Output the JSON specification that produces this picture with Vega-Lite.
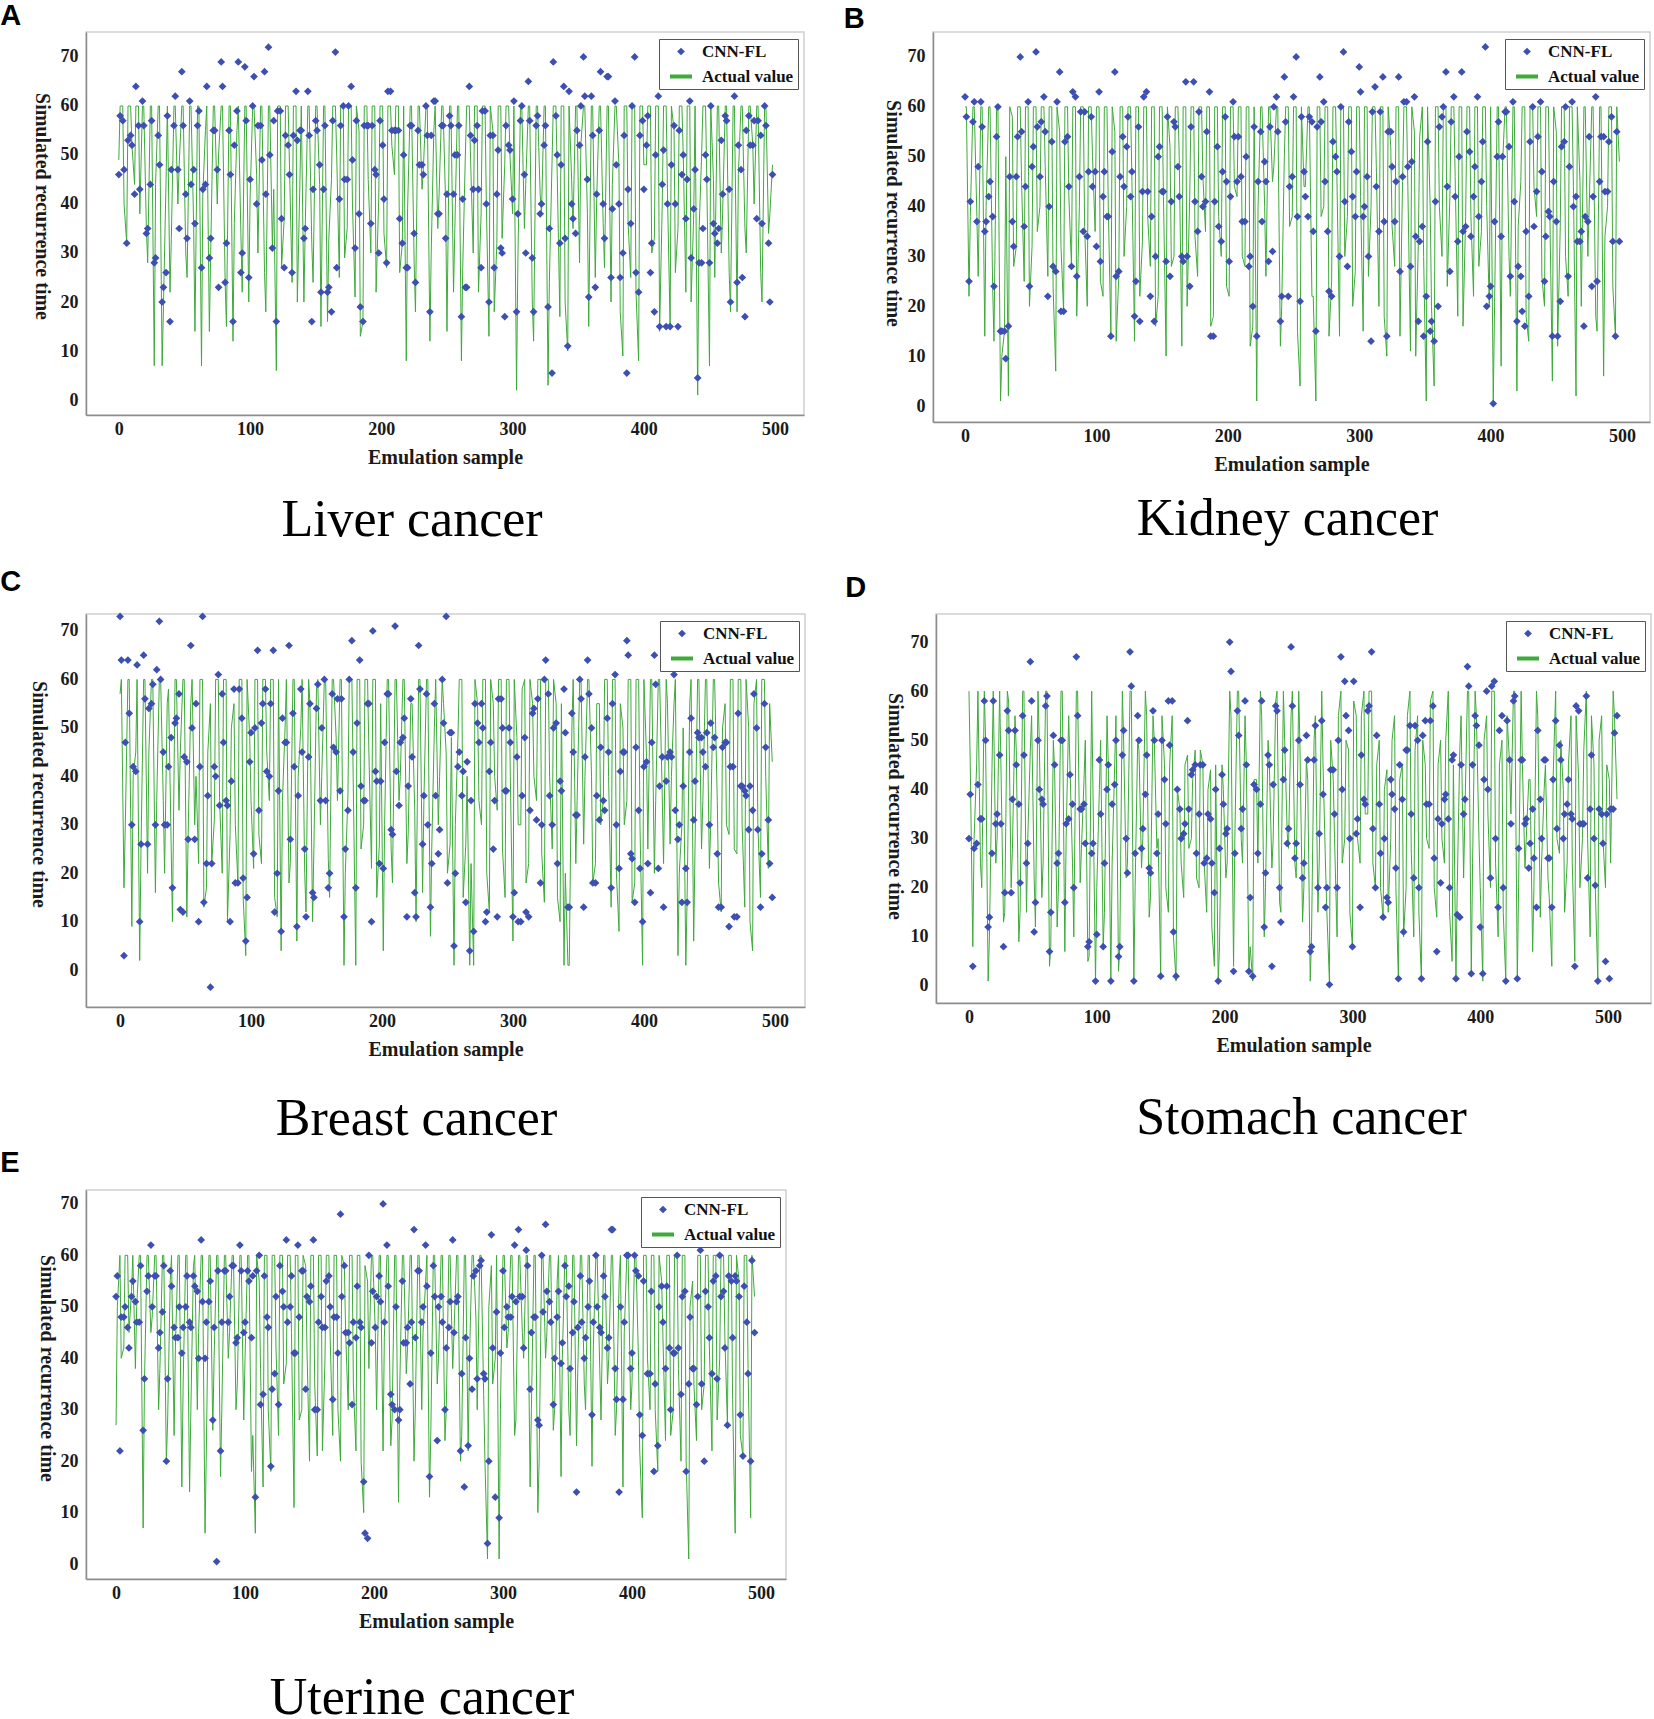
{
"$schema":"https://vega.github.io/schema/vega-lite/v6.json",
"background":"white",
"padding":{"left":0,"top":2,"right":0,"bottom":0},
"config":{
 "view":{"stroke":"#cfcfcf","strokeWidth":1.5},
 "axis":{"labelFont":"Liberation Serif","labelFontWeight":"bold","labelFontSize":18,"labelColor":"#1a1a1a","titleFont":"Liberation Serif","titleFontWeight":"bold","titleFontSize":20,"titleColor":"#1a1a1a","grid":false,"ticks":false,"domainColor":"#8c8c8c","domainWidth":1.5,"labelPadding":8,"labelFlush":false,"labelOverlap":false},
 "axisX":{"titlePadding":9,"labelPadding":5},
 "axisY":{"titleAngle":90,"titleBaseline":"top"},
 "legend":{"strokeColor":"#555","fillColor":"white","padding":4,"rowPadding":3.5,"symbolOffset":5,"labelFont":"Liberation Serif","labelFontWeight":"bold","labelFontSize":17,"labelColor":"#111","labelOffset":8,"cornerRadius":0,"orient":"top-right","offset":6.5},
 "title":{"font":"Liberation Sans","fontWeight":"bold","fontSize":29,"color":"#000","anchor":"start","frame":"bounds"},
 "line":{"strokeWidth":1},
 "point":{"filled":true,"opacity":1}
},
"datasets":{
"A":[{"x":0,"a":49,"c":46},{"x":3,"a":60,"c":57},{"x":6,"a":32,"c":32},{"x":9,"a":60,"c":54},{"x":12,"a":44,"c":42},{"x":15,"a":60,"c":56},{"x":18,"a":60,"c":61},{"x":21,"a":35,"c":34},{"x":24,"a":60,"c":44},{"x":27,"a":7,"c":28},{"x":30,"a":60,"c":54},{"x":33,"a":7,"c":20},{"x":36,"a":45,"c":26},{"x":39,"a":22,"c":16},{"x":42,"a":60,"c":56},{"x":45,"a":40,"c":47},{"x":48,"a":60,"c":67},{"x":51,"a":30,"c":42},{"x":54,"a":60,"c":61},{"x":57,"a":36,"c":47},{"x":60,"a":60,"c":56},{"x":63,"a":7,"c":27},{"x":66,"a":55,"c":44},{"x":69,"a":14,"c":29},{"x":72,"a":60,"c":55},{"x":75,"a":40,"c":47},{"x":78,"a":60,"c":69},{"x":81,"a":24,"c":24},{"x":84,"a":60,"c":55},{"x":87,"a":12,"c":16},{"x":90,"a":55,"c":59},{"x":93,"a":34,"c":26},{"x":96,"a":60,"c":68},{"x":99,"a":20,"c":25},{"x":102,"a":60,"c":60},{"x":105,"a":46,"c":40},{"x":108,"a":60,"c":56},{"x":111,"a":26,"c":67},{"x":114,"a":60,"c":72},{"x":117,"a":31,"c":31},{"x":120,"a":6,"c":16},{"x":123,"a":60,"c":59},{"x":126,"a":37,"c":27},{"x":129,"a":60,"c":52},{"x":132,"a":24,"c":26},{"x":135,"a":60,"c":63},{"x":138,"a":45,"c":55},{"x":141,"a":20,"c":33},{"x":144,"a":60,"c":63},{"x":147,"a":32,"c":16},{"x":150,"a":60,"c":57},{"x":153,"a":44,"c":48},{"x":156,"a":60,"c":43},{"x":159,"a":16,"c":22},{"x":162,"a":45,"c":18},{"x":165,"a":60,"c":71},{"x":168,"a":25,"c":41},{"x":171,"a":60,"c":60},{"x":174,"a":35,"c":45},{"x":177,"a":60,"c":64},{"x":180,"a":21,"c":31},{"x":183,"a":55,"c":38},{"x":186,"a":16,"c":16},{"x":189,"a":60,"c":56},{"x":192,"a":30,"c":36},{"x":195,"a":60,"c":47},{"x":198,"a":41,"c":30},{"x":201,"a":60,"c":52},{"x":204,"a":27,"c":28},{"x":207,"a":60,"c":63},{"x":210,"a":46,"c":55},{"x":213,"a":60,"c":55},{"x":216,"a":32,"c":32},{"x":219,"a":8,"c":27},{"x":222,"a":60,"c":56},{"x":225,"a":28,"c":34},{"x":228,"a":60,"c":55},{"x":231,"a":43,"c":48},{"x":234,"a":60,"c":60},{"x":237,"a":12,"c":18},{"x":240,"a":55,"c":61},{"x":243,"a":35,"c":38},{"x":246,"a":60,"c":56},{"x":249,"a":40,"c":33},{"x":252,"a":60,"c":58},{"x":255,"a":22,"c":42},{"x":258,"a":60,"c":50},{"x":261,"a":8,"c":17},{"x":264,"a":50,"c":23},{"x":267,"a":60,"c":64},{"x":270,"a":30,"c":43},{"x":273,"a":60,"c":56},{"x":276,"a":38,"c":27},{"x":279,"a":60,"c":59},{"x":282,"a":13,"c":20},{"x":285,"a":55,"c":54},{"x":288,"a":32,"c":42},{"x":291,"a":60,"c":31},{"x":294,"a":48,"c":17},{"x":297,"a":60,"c":52},{"x":300,"a":38,"c":41},{"x":303,"a":2,"c":18},{"x":306,"a":60,"c":57},{"x":309,"a":35,"c":46},{"x":312,"a":60,"c":65},{"x":315,"a":20,"c":29},{"x":318,"a":60,"c":56},{"x":321,"a":42,"c":38},{"x":324,"a":60,"c":52},{"x":327,"a":3,"c":19},{"x":330,"a":48,"c":5.5},{"x":333,"a":60,"c":58},{"x":336,"a":17,"c":32},{"x":339,"a":60,"c":64},{"x":342,"a":10,"c":11},{"x":345,"a":45,"c":40},{"x":348,"a":60,"c":34},{"x":351,"a":28,"c":52},{"x":354,"a":60,"c":70},{"x":357,"a":38,"c":45},{"x":360,"a":60,"c":62},{"x":363,"a":25,"c":23},{"x":366,"a":60,"c":55},{"x":369,"a":36,"c":40},{"x":372,"a":60,"c":66},{"x":375,"a":20,"c":25},{"x":378,"a":60,"c":61},{"x":381,"a":48,"c":40},{"x":384,"a":9,"c":30},{"x":387,"a":60,"c":5.5},{"x":390,"a":25,"c":36},{"x":393,"a":60,"c":70},{"x":396,"a":8,"c":22},{"x":399,"a":60,"c":57},{"x":402,"a":48,"c":52},{"x":405,"a":60,"c":26},{"x":408,"a":33,"c":18},{"x":411,"a":60,"c":62},{"x":414,"a":40,"c":44},{"x":417,"a":60,"c":15},{"x":420,"a":15,"c":15},{"x":423,"a":55,"c":56},{"x":426,"a":35,"c":15},{"x":429,"a":60,"c":46},{"x":432,"a":22,"c":37},{"x":435,"a":60,"c":61},{"x":438,"a":38,"c":39},{"x":441,"a":1,"c":4.5},{"x":444,"a":50,"c":28},{"x":447,"a":60,"c":50},{"x":450,"a":7,"c":28},{"x":453,"a":45,"c":36},{"x":456,"a":60,"c":32},{"x":459,"a":30,"c":53},{"x":462,"a":60,"c":58},{"x":465,"a":26,"c":43},{"x":468,"a":60,"c":64},{"x":471,"a":18,"c":24},{"x":474,"a":60,"c":47},{"x":477,"a":35,"c":17},{"x":480,"a":60,"c":58},{"x":483,"a":52,"c":52},{"x":486,"a":60,"c":37},{"x":489,"a":26,"c":54},{"x":492,"a":60,"c":60},{"x":495,"a":34,"c":32},{"x":498,"a":48,"c":46},
{"x":1,"a":60,"c":58},{"x":4,"a":40,"c":47},{"x":7,"a":60,"c":53},{"x":10,"a":52,"c":52},{"x":13,"a":60,"c":64},{"x":16,"a":38,"c":43},{"x":19,"a":60,"c":56},{"x":22,"a":28,"c":35},{"x":25,"a":60,"c":57},{"x":28,"a":44,"c":29},{"x":31,"a":60,"c":48},{"x":34,"a":19,"c":23},{"x":37,"a":60,"c":58},{"x":40,"a":33,"c":47},{"x":43,"a":60,"c":62},{"x":46,"a":48,"c":35},{"x":49,"a":60,"c":56},{"x":52,"a":25,"c":33},{"x":55,"a":60,"c":44},{"x":58,"a":14,"c":36},{"x":61,"a":60,"c":59},{"x":64,"a":42,"c":43},{"x":67,"a":60,"c":64},{"x":70,"a":30,"c":33},{"x":73,"a":60,"c":55},{"x":76,"a":50,"c":23},{"x":79,"a":60,"c":64},{"x":82,"a":15,"c":32},{"x":85,"a":60,"c":46},{"x":88,"a":36,"c":52},{"x":91,"a":60,"c":69},{"x":94,"a":22,"c":30},{"x":97,"a":60,"c":57},{"x":100,"a":41,"c":45},{"x":103,"a":60,"c":66},{"x":106,"a":30,"c":56},{"x":109,"a":60,"c":49},{"x":112,"a":18,"c":42},{"x":115,"a":60,"c":50},{"x":118,"a":43,"c":57},{"x":121,"a":60,"c":59},{"x":124,"a":27,"c":37},{"x":127,"a":60,"c":54},{"x":130,"a":48,"c":46},{"x":133,"a":60,"c":54},{"x":136,"a":20,"c":53},{"x":139,"a":60,"c":55},{"x":142,"a":35,"c":35},{"x":145,"a":60,"c":54},{"x":148,"a":24,"c":43},{"x":151,"a":60,"c":55},{"x":154,"a":15,"c":22},{"x":157,"a":60,"c":56},{"x":160,"a":33,"c":23},{"x":163,"a":60,"c":57},{"x":166,"a":50,"c":27},{"x":169,"a":60,"c":56},{"x":172,"a":29,"c":45},{"x":175,"a":60,"c":60},{"x":178,"a":40,"c":49},{"x":181,"a":60,"c":57},{"x":184,"a":13,"c":19},{"x":187,"a":60,"c":56},{"x":190,"a":45,"c":56},{"x":193,"a":60,"c":56},{"x":196,"a":22,"c":46},{"x":199,"a":60,"c":57},{"x":202,"a":34,"c":41},{"x":205,"a":60,"c":63},{"x":208,"a":52,"c":55},{"x":211,"a":60,"c":55},{"x":214,"a":26,"c":37},{"x":217,"a":60,"c":50},{"x":220,"a":39,"c":27},{"x":223,"a":60,"c":56},{"x":226,"a":18,"c":24},{"x":229,"a":60,"c":48},{"x":232,"a":47,"c":46},{"x":235,"a":60,"c":54},{"x":238,"a":30,"c":54},{"x":241,"a":60,"c":61},{"x":244,"a":42,"c":38},{"x":247,"a":60,"c":56},{"x":250,"a":14,"c":42},{"x":253,"a":60,"c":56},{"x":256,"a":35,"c":50},{"x":259,"a":60,"c":56},{"x":262,"a":27,"c":41},{"x":265,"a":60,"c":23},{"x":268,"a":49,"c":54},{"x":271,"a":60,"c":53},{"x":274,"a":22,"c":43},{"x":277,"a":60,"c":59},{"x":280,"a":40,"c":40},{"x":283,"a":60,"c":54},{"x":286,"a":18,"c":27},{"x":289,"a":60,"c":51},{"x":292,"a":33,"c":30},{"x":295,"a":60,"c":56},{"x":298,"a":50,"c":51},{"x":301,"a":60,"c":61},{"x":304,"a":28,"c":38},{"x":307,"a":60,"c":60},{"x":310,"a":44,"c":30},{"x":313,"a":60,"c":57},{"x":316,"a":12,"c":18},{"x":319,"a":60,"c":58},{"x":322,"a":38,"c":40},{"x":325,"a":60,"c":56},{"x":328,"a":24,"c":35},{"x":331,"a":60,"c":69},{"x":334,"a":46,"c":50},{"x":337,"a":60,"c":48},{"x":340,"a":20,"c":33},{"x":343,"a":60,"c":63},{"x":346,"a":35,"c":37},{"x":349,"a":60,"c":55},{"x":352,"a":52,"c":60},{"x":355,"a":60,"c":62},{"x":358,"a":15,"c":21},{"x":361,"a":60,"c":54},{"x":364,"a":40,"c":42},{"x":367,"a":60,"c":67},{"x":370,"a":27,"c":33},{"x":373,"a":60,"c":66},{"x":376,"a":44,"c":39},{"x":379,"a":60,"c":48},{"x":382,"a":18,"c":25},{"x":385,"a":60,"c":54},{"x":388,"a":36,"c":43},{"x":391,"a":60,"c":60},{"x":394,"a":22,"c":26},{"x":397,"a":60,"c":54},{"x":400,"a":48,"c":43},{"x":403,"a":60,"c":58},{"x":406,"a":30,"c":32},{"x":409,"a":60,"c":50},{"x":412,"a":14,"c":15},{"x":415,"a":60,"c":51},{"x":418,"a":42,"c":40},{"x":421,"a":60,"c":48},{"x":424,"a":26,"c":40},{"x":427,"a":60,"c":55},{"x":430,"a":50,"c":50},{"x":433,"a":60,"c":45},{"x":436,"a":20,"c":29},{"x":439,"a":60,"c":47},{"x":442,"a":34,"c":28},{"x":445,"a":60,"c":35},{"x":448,"a":44,"c":45},{"x":451,"a":60,"c":60},{"x":454,"a":25,"c":34},{"x":457,"a":60,"c":35},{"x":460,"a":38,"c":42},{"x":463,"a":60,"c":57},{"x":466,"a":18,"c":20},{"x":469,"a":60,"c":62},{"x":472,"a":46,"c":52},{"x":475,"a":60,"c":25},{"x":478,"a":30,"c":55},{"x":481,"a":60,"c":52},{"x":484,"a":40,"c":57},{"x":487,"a":60,"c":57},{"x":490,"a":20,"c":36},{"x":493,"a":60,"c":56},{"x":496,"a":38,"c":20}],
"B":[{"x":0,"a":60,"c":62},{"x":3,"a":22,"c":25},{"x":6,"a":60,"c":57},{"x":9,"a":38,"c":37},{"x":12,"a":60,"c":61},{"x":15,"a":14,"c":35},{"x":18,"a":60,"c":42},{"x":21,"a":24,"c":38},{"x":24,"a":60,"c":54},{"x":27,"a":1,"c":15},{"x":30,"a":15,"c":15},{"x":33,"a":2,"c":16},{"x":36,"a":58,"c":37},{"x":39,"a":32,"c":46},{"x":42,"a":60,"c":70},{"x":45,"a":25,"c":36},{"x":48,"a":60,"c":61},{"x":51,"a":32,"c":48},{"x":54,"a":60,"c":71},{"x":57,"a":40,"c":46},{"x":60,"a":60,"c":62},{"x":63,"a":26,"c":22},{"x":66,"a":60,"c":53},{"x":69,"a":7,"c":27},{"x":72,"a":55,"c":67},{"x":75,"a":19,"c":19},{"x":78,"a":60,"c":54},{"x":81,"a":28,"c":28},{"x":84,"a":60,"c":62},{"x":87,"a":40,"c":46},{"x":90,"a":60,"c":35},{"x":93,"a":20,"c":34},{"x":96,"a":60,"c":58},{"x":99,"a":35,"c":47},{"x":102,"a":60,"c":63},{"x":105,"a":22,"c":42},{"x":108,"a":60,"c":38},{"x":111,"a":14,"c":14},{"x":114,"a":55,"c":67},{"x":117,"a":26,"c":27},{"x":120,"a":60,"c":54},{"x":123,"a":40,"c":52},{"x":126,"a":60,"c":42},{"x":129,"a":13,"c":18},{"x":132,"a":60,"c":56},{"x":135,"a":33,"c":43},{"x":138,"a":60,"c":63},{"x":141,"a":28,"c":22},{"x":144,"a":60,"c":17},{"x":147,"a":22,"c":50},{"x":150,"a":60,"c":43},{"x":153,"a":10,"c":29},{"x":156,"a":52,"c":26},{"x":159,"a":30,"c":57},{"x":162,"a":60,"c":48},{"x":165,"a":12,"c":30},{"x":168,"a":60,"c":65},{"x":171,"a":42,"c":24},{"x":174,"a":60,"c":65},{"x":177,"a":26,"c":35},{"x":180,"a":60,"c":46},{"x":183,"a":35,"c":41},{"x":186,"a":60,"c":63},{"x":189,"a":18,"c":14},{"x":192,"a":60,"c":52},{"x":195,"a":30,"c":33},{"x":198,"a":60,"c":58},{"x":201,"a":22,"c":29},{"x":204,"a":60,"c":61},{"x":207,"a":42,"c":45},{"x":210,"a":60,"c":46},{"x":213,"a":28,"c":37},{"x":216,"a":60,"c":28},{"x":219,"a":16,"c":20},{"x":222,"a":1,"c":14},{"x":225,"a":60,"c":55},{"x":228,"a":40,"c":49},{"x":231,"a":60,"c":29},{"x":234,"a":45,"c":31},{"x":237,"a":60,"c":62},{"x":240,"a":12,"c":17},{"x":243,"a":50,"c":66},{"x":246,"a":60,"c":22},{"x":249,"a":38,"c":46},{"x":252,"a":60,"c":70},{"x":255,"a":4,"c":21},{"x":258,"a":44,"c":47},{"x":261,"a":60,"c":38},{"x":264,"a":22,"c":57},{"x":267,"a":1,"c":15},{"x":270,"a":60,"c":66},{"x":273,"a":40,"c":61},{"x":276,"a":60,"c":35},{"x":279,"a":25,"c":22},{"x":282,"a":60,"c":50},{"x":285,"a":14,"c":30},{"x":288,"a":60,"c":71},{"x":291,"a":38,"c":28},{"x":294,"a":60,"c":51},{"x":297,"a":27,"c":38},{"x":300,"a":60,"c":68},{"x":303,"a":15,"c":38},{"x":306,"a":60,"c":46},{"x":309,"a":40,"c":13},{"x":312,"a":60,"c":64},{"x":315,"a":20,"c":35},{"x":318,"a":60,"c":66},{"x":321,"a":10,"c":14},{"x":324,"a":52,"c":55},{"x":327,"a":28,"c":37},{"x":330,"a":60,"c":66},{"x":333,"a":45,"c":46},{"x":336,"a":60,"c":61},{"x":339,"a":11,"c":28},{"x":342,"a":55,"c":62},{"x":345,"a":33,"c":17},{"x":348,"a":60,"c":36},{"x":351,"a":1,"c":22},{"x":354,"a":40,"c":15},{"x":357,"a":4,"c":13},{"x":360,"a":60,"c":20},{"x":363,"a":30,"c":58},{"x":366,"a":60,"c":67},{"x":369,"a":42,"c":27},{"x":372,"a":60,"c":62},{"x":375,"a":18,"c":33},{"x":378,"a":60,"c":67},{"x":381,"a":38,"c":36},{"x":384,"a":60,"c":51},{"x":387,"a":22,"c":42},{"x":390,"a":60,"c":62},{"x":393,"a":35,"c":45},{"x":396,"a":60,"c":72},{"x":399,"a":20,"c":22},{"x":402,"a":1,"c":0.5},{"x":405,"a":60,"c":50},{"x":408,"a":8,"c":34},{"x":411,"a":60,"c":59},{"x":414,"a":30,"c":52},{"x":417,"a":60,"c":61},{"x":420,"a":3,"c":17},{"x":423,"a":45,"c":26},{"x":426,"a":60,"c":16},{"x":429,"a":13,"c":22},{"x":432,"a":60,"c":60},{"x":435,"a":38,"c":43},{"x":438,"a":60,"c":61},{"x":441,"a":20,"c":25},{"x":444,"a":60,"c":39},{"x":447,"a":5,"c":14},{"x":450,"a":55,"c":37},{"x":453,"a":36,"c":21},{"x":456,"a":60,"c":53},{"x":459,"a":22,"c":26},{"x":462,"a":60,"c":61},{"x":465,"a":2,"c":42},{"x":468,"a":45,"c":33},{"x":471,"a":60,"c":16},{"x":474,"a":30,"c":37},{"x":477,"a":60,"c":24},{"x":480,"a":18,"c":62},{"x":483,"a":60,"c":45},{"x":486,"a":6,"c":54},{"x":489,"a":40,"c":43},{"x":492,"a":60,"c":58},{"x":495,"a":14,"c":14},{"x":498,"a":49,"c":33},
{"x":1,"a":60,"c":58},{"x":4,"a":38,"c":41},{"x":7,"a":60,"c":61},{"x":10,"a":26,"c":48},{"x":13,"a":60,"c":56},{"x":16,"a":40,"c":37},{"x":19,"a":60,"c":45},{"x":22,"a":13,"c":24},{"x":25,"a":60,"c":60},{"x":28,"a":10,"c":15},{"x":31,"a":50,"c":9.5},{"x":34,"a":60,"c":46},{"x":37,"a":28,"c":32},{"x":40,"a":60,"c":54},{"x":43,"a":45,"c":55},{"x":46,"a":60,"c":44},{"x":49,"a":20,"c":24},{"x":52,"a":60,"c":52},{"x":55,"a":35,"c":56},{"x":58,"a":60,"c":57},{"x":61,"a":48,"c":55},{"x":64,"a":60,"c":40},{"x":67,"a":24,"c":28},{"x":70,"a":60,"c":61},{"x":73,"a":32,"c":19},{"x":76,"a":60,"c":53},{"x":79,"a":42,"c":44},{"x":82,"a":60,"c":63},{"x":85,"a":18,"c":26},{"x":88,"a":60,"c":59},{"x":91,"a":36,"c":59},{"x":94,"a":60,"c":47},{"x":97,"a":50,"c":44},{"x":100,"a":60,"c":32},{"x":103,"a":25,"c":29},{"x":106,"a":60,"c":47},{"x":109,"a":40,"c":38},{"x":112,"a":60,"c":51},{"x":115,"a":13,"c":26},{"x":118,"a":60,"c":46},{"x":121,"a":30,"c":44},{"x":124,"a":60,"c":58},{"x":127,"a":45,"c":47},{"x":130,"a":60,"c":25},{"x":133,"a":22,"c":17},{"x":136,"a":60,"c":62},{"x":139,"a":38,"c":43},{"x":142,"a":60,"c":38},{"x":145,"a":16,"c":30},{"x":148,"a":60,"c":52},{"x":151,"a":42,"c":43},{"x":154,"a":60,"c":58},{"x":157,"a":28,"c":41},{"x":160,"a":60,"c":56},{"x":163,"a":50,"c":42},{"x":166,"a":60,"c":29},{"x":169,"a":20,"c":30},{"x":172,"a":60,"c":56},{"x":175,"a":34,"c":41},{"x":178,"a":60,"c":59},{"x":181,"a":46,"c":40},{"x":184,"a":60,"c":55},{"x":187,"a":16,"c":14},{"x":190,"a":60,"c":41},{"x":193,"a":38,"c":36},{"x":196,"a":60,"c":47},{"x":199,"a":24,"c":45},{"x":202,"a":60,"c":42},{"x":205,"a":44,"c":54},{"x":208,"a":60,"c":54},{"x":211,"a":30,"c":37},{"x":214,"a":60,"c":50},{"x":217,"a":12,"c":30},{"x":220,"a":60,"c":56},{"x":223,"a":40,"c":45},{"x":226,"a":60,"c":37},{"x":229,"a":26,"c":45},{"x":232,"a":60,"c":56},{"x":235,"a":48,"c":60},{"x":238,"a":60,"c":55},{"x":241,"a":20,"c":22},{"x":244,"a":60,"c":57},{"x":247,"a":36,"c":44},{"x":250,"a":60,"c":62},{"x":253,"a":15,"c":38},{"x":256,"a":60,"c":58},{"x":259,"a":44,"c":42},{"x":262,"a":60,"c":58},{"x":265,"a":22,"c":35},{"x":268,"a":60,"c":56},{"x":271,"a":38,"c":57},{"x":274,"a":60,"c":45},{"x":277,"a":14,"c":23},{"x":280,"a":60,"c":53},{"x":283,"a":46,"c":47},{"x":286,"a":60,"c":60},{"x":289,"a":30,"c":41},{"x":292,"a":60,"c":57},{"x":295,"a":20,"c":42},{"x":298,"a":60,"c":47},{"x":301,"a":42,"c":63},{"x":304,"a":60,"c":40},{"x":307,"a":26,"c":30},{"x":310,"a":60,"c":59},{"x":313,"a":48,"c":44},{"x":316,"a":60,"c":59},{"x":319,"a":18,"c":37},{"x":322,"a":60,"c":55},{"x":325,"a":36,"c":48},{"x":328,"a":60,"c":45},{"x":331,"a":14,"c":27},{"x":334,"a":60,"c":61},{"x":337,"a":44,"c":48},{"x":340,"a":60,"c":49},{"x":343,"a":10,"c":34},{"x":346,"a":54,"c":33},{"x":349,"a":30,"c":14},{"x":352,"a":60,"c":53},{"x":355,"a":20,"c":17},{"x":358,"a":60,"c":41},{"x":361,"a":40,"c":56},{"x":364,"a":60,"c":60},{"x":367,"a":24,"c":44},{"x":370,"a":60,"c":57},{"x":373,"a":46,"c":42},{"x":376,"a":60,"c":50},{"x":379,"a":16,"c":35},{"x":382,"a":60,"c":55},{"x":385,"a":38,"c":34},{"x":388,"a":60,"c":48},{"x":391,"a":28,"c":38},{"x":394,"a":60,"c":53},{"x":397,"a":40,"c":20},{"x":400,"a":60,"c":24},{"x":403,"a":20,"c":37},{"x":406,"a":60,"c":57},{"x":409,"a":48,"c":50},{"x":412,"a":60,"c":59},{"x":415,"a":22,"c":26},{"x":418,"a":60,"c":41},{"x":421,"a":36,"c":28},{"x":424,"a":60,"c":19},{"x":427,"a":18,"c":35},{"x":430,"a":60,"c":53},{"x":433,"a":44,"c":36},{"x":436,"a":60,"c":54},{"x":439,"a":26,"c":47},{"x":442,"a":60,"c":34},{"x":445,"a":40,"c":38},{"x":448,"a":60,"c":45},{"x":451,"a":12,"c":14},{"x":454,"a":60,"c":52},{"x":457,"a":30,"c":60},{"x":460,"a":60,"c":48},{"x":463,"a":44,"c":40},{"x":466,"a":60,"c":33},{"x":469,"a":20,"c":35},{"x":472,"a":60,"c":38},{"x":475,"a":40,"c":54},{"x":478,"a":60,"c":42},{"x":481,"a":15,"c":25},{"x":484,"a":60,"c":54},{"x":487,"a":34,"c":43},{"x":490,"a":60,"c":53},{"x":493,"a":24,"c":33},{"x":496,"a":60,"c":55}],
"C":[{"x":0,"a":57,"c":73},{"x":3,"a":17,"c":3},{"x":6,"a":60,"c":64},{"x":9,"a":9,"c":30},{"x":12,"a":45,"c":41},{"x":15,"a":2,"c":10},{"x":18,"a":60,"c":65},{"x":21,"a":20,"c":26},{"x":24,"a":60,"c":55},{"x":27,"a":16,"c":30},{"x":30,"a":60,"c":72},{"x":33,"a":35,"c":45},{"x":36,"a":55,"c":30},{"x":39,"a":26,"c":48},{"x":42,"a":60,"c":51},{"x":45,"a":33,"c":57},{"x":48,"a":60,"c":12},{"x":51,"a":11,"c":43},{"x":54,"a":55,"c":67},{"x":57,"a":30,"c":27},{"x":60,"a":22,"c":10},{"x":63,"a":60,"c":73},{"x":66,"a":17,"c":22},{"x":69,"a":55,"c":-3.5},{"x":72,"a":31,"c":42},{"x":75,"a":60,"c":61},{"x":78,"a":20,"c":57},{"x":81,"a":60,"c":35},{"x":84,"a":28,"c":10},{"x":87,"a":55,"c":58},{"x":90,"a":18,"c":18},{"x":93,"a":60,"c":52},{"x":96,"a":3,"c":6},{"x":99,"a":48,"c":43},{"x":102,"a":21,"c":24},{"x":105,"a":60,"c":66},{"x":108,"a":22,"c":51},{"x":111,"a":60,"c":58},{"x":114,"a":35,"c":40},{"x":117,"a":60,"c":66},{"x":120,"a":11,"c":20},{"x":123,"a":4,"c":8},{"x":126,"a":50,"c":47},{"x":129,"a":18,"c":67},{"x":132,"a":60,"c":53},{"x":135,"a":6,"c":9},{"x":138,"a":50,"c":58},{"x":141,"a":20,"c":25},{"x":144,"a":60,"c":44},{"x":147,"a":10,"c":16},{"x":150,"a":58,"c":54},{"x":153,"a":30,"c":35},{"x":156,"a":60,"c":60},{"x":159,"a":23,"c":17},{"x":162,"a":60,"c":57},{"x":165,"a":48,"c":45},{"x":168,"a":60,"c":37},{"x":171,"a":1,"c":11},{"x":174,"a":36,"c":33},{"x":177,"a":60,"c":68},{"x":180,"a":1,"c":17},{"x":183,"a":60,"c":64},{"x":186,"a":30,"c":35},{"x":189,"a":60,"c":55},{"x":192,"a":21,"c":10},{"x":195,"a":60,"c":41},{"x":198,"a":26,"c":22},{"x":201,"a":4,"c":21},{"x":204,"a":60,"c":57},{"x":207,"a":25,"c":29},{"x":210,"a":60,"c":71},{"x":213,"a":35,"c":34},{"x":216,"a":60,"c":48},{"x":219,"a":22,"c":11},{"x":222,"a":55,"c":56},{"x":225,"a":33,"c":16},{"x":228,"a":60,"c":67},{"x":231,"a":16,"c":26},{"x":234,"a":60,"c":57},{"x":237,"a":7,"c":13},{"x":240,"a":50,"c":55},{"x":243,"a":30,"c":24},{"x":246,"a":60,"c":60},{"x":249,"a":45,"c":73},{"x":252,"a":26,"c":49},{"x":255,"a":1,"c":5},{"x":258,"a":48,"c":42},{"x":261,"a":60,"c":36},{"x":264,"a":26,"c":14},{"x":267,"a":1,"c":4},{"x":270,"a":1,"c":8},{"x":273,"a":55,"c":51},{"x":276,"a":30,"c":55},{"x":279,"a":60,"c":10},{"x":282,"a":12,"c":41},{"x":285,"a":55,"c":25},{"x":288,"a":33,"c":11},{"x":291,"a":60,"c":56},{"x":294,"a":15,"c":37},{"x":297,"a":60,"c":50},{"x":300,"a":6,"c":11},{"x":303,"a":48,"c":44},{"x":306,"a":30,"c":10},{"x":309,"a":60,"c":48},{"x":312,"a":22,"c":11},{"x":315,"a":55,"c":53},{"x":318,"a":35,"c":31},{"x":321,"a":60,"c":18},{"x":324,"a":14,"c":60},{"x":327,"a":60,"c":57},{"x":330,"a":25,"c":30},{"x":333,"a":55,"c":51},{"x":336,"a":10,"c":39},{"x":339,"a":1,"c":58},{"x":342,"a":1,"c":13},{"x":345,"a":50,"c":53},{"x":348,"a":22,"c":32},{"x":351,"a":60,"c":60},{"x":354,"a":26,"c":13},{"x":357,"a":60,"c":64},{"x":360,"a":40,"c":50},{"x":363,"a":22,"c":18},{"x":366,"a":55,"c":31},{"x":369,"a":35,"c":35},{"x":372,"a":60,"c":52},{"x":375,"a":13,"c":17},{"x":378,"a":60,"c":61},{"x":381,"a":8,"c":21},{"x":384,"a":50,"c":45},{"x":387,"a":35,"c":68},{"x":390,"a":60,"c":24},{"x":393,"a":18,"c":14},{"x":396,"a":60,"c":33},{"x":399,"a":1,"c":10},{"x":402,"a":44,"c":43},{"x":405,"a":60,"c":16},{"x":408,"a":20,"c":65},{"x":411,"a":60,"c":21},{"x":414,"a":36,"c":44},{"x":417,"a":60,"c":39},{"x":420,"a":26,"c":45},{"x":423,"a":55,"c":61},{"x":426,"a":3,"c":27},{"x":429,"a":30,"c":14},{"x":432,"a":1,"c":21},{"x":435,"a":55,"c":45},{"x":438,"a":6,"c":31},{"x":441,"a":60,"c":49},{"x":444,"a":25,"c":48},{"x":447,"a":60,"c":42},{"x":450,"a":21,"c":30},{"x":453,"a":60,"c":46},{"x":456,"a":35,"c":24},{"x":459,"a":12,"c":13},{"x":462,"a":55,"c":47},{"x":465,"a":28,"c":9},{"x":468,"a":60,"c":42},{"x":471,"a":24,"c":11},{"x":474,"a":60,"c":38},{"x":477,"a":13,"c":37},{"x":480,"a":50,"c":29},{"x":483,"a":4,"c":33},{"x":486,"a":60,"c":50},{"x":489,"a":15,"c":13},{"x":492,"a":60,"c":55},{"x":495,"a":21,"c":31},{"x":498,"a":43,"c":15},
{"x":1,"a":60,"c":64},{"x":4,"a":30,"c":47},{"x":7,"a":60,"c":53},{"x":10,"a":40,"c":42},{"x":13,"a":60,"c":63},{"x":16,"a":25,"c":26},{"x":19,"a":60,"c":56},{"x":22,"a":45,"c":54},{"x":25,"a":60,"c":59},{"x":28,"a":35,"c":62},{"x":31,"a":60,"c":60},{"x":34,"a":20,"c":30},{"x":37,"a":58,"c":42},{"x":40,"a":10,"c":17},{"x":43,"a":60,"c":52},{"x":46,"a":45,"c":12.5},{"x":49,"a":60,"c":44},{"x":52,"a":28,"c":27},{"x":55,"a":60,"c":50},{"x":58,"a":40,"c":55},{"x":61,"a":60,"c":42},{"x":64,"a":13,"c":14},{"x":67,"a":45,"c":36},{"x":70,"a":22,"c":22},{"x":73,"a":60,"c":40},{"x":76,"a":35,"c":34},{"x":79,"a":60,"c":47},{"x":82,"a":10,"c":34},{"x":85,"a":50,"c":39},{"x":88,"a":30,"c":18},{"x":91,"a":60,"c":58},{"x":94,"a":15,"c":19},{"x":97,"a":60,"c":15},{"x":100,"a":35,"c":49},{"x":103,"a":60,"c":50},{"x":106,"a":28,"c":33},{"x":109,"a":60,"c":55},{"x":112,"a":45,"c":41},{"x":115,"a":60,"c":55},{"x":118,"a":15,"c":12},{"x":121,"a":60,"c":37},{"x":124,"a":35,"c":52},{"x":127,"a":60,"c":47},{"x":130,"a":22,"c":27},{"x":133,"a":60,"c":42},{"x":136,"a":40,"c":36},{"x":139,"a":60,"c":45},{"x":142,"a":12,"c":11},{"x":145,"a":55,"c":55},{"x":148,"a":25,"c":15},{"x":151,"a":60,"c":59},{"x":154,"a":40,"c":50},{"x":157,"a":60,"c":35},{"x":160,"a":15,"c":20},{"x":163,"a":60,"c":46},{"x":166,"a":35,"c":56},{"x":169,"a":60,"c":56},{"x":172,"a":20,"c":25},{"x":175,"a":60,"c":60},{"x":178,"a":40,"c":45},{"x":181,"a":60,"c":51},{"x":184,"a":25,"c":38},{"x":187,"a":60,"c":35},{"x":190,"a":45,"c":55},{"x":193,"a":60,"c":70},{"x":196,"a":15,"c":39},{"x":199,"a":55,"c":39},{"x":202,"a":30,"c":47},{"x":205,"a":60,"c":57},{"x":208,"a":18,"c":28},{"x":211,"a":60,"c":41},{"x":214,"a":40,"c":47},{"x":217,"a":60,"c":52},{"x":220,"a":28,"c":38},{"x":223,"a":55,"c":44},{"x":226,"a":10,"c":11},{"x":229,"a":60,"c":58},{"x":232,"a":35,"c":36},{"x":235,"a":60,"c":30},{"x":238,"a":25,"c":22},{"x":241,"a":60,"c":36},{"x":244,"a":40,"c":29},{"x":247,"a":55,"c":51},{"x":250,"a":20,"c":18},{"x":253,"a":48,"c":49},{"x":256,"a":30,"c":20},{"x":259,"a":60,"c":45},{"x":262,"a":15,"c":41},{"x":265,"a":40,"c":43},{"x":268,"a":22,"c":35},{"x":271,"a":60,"c":55},{"x":274,"a":35,"c":47},{"x":277,"a":60,"c":50},{"x":280,"a":20,"c":12},{"x":283,"a":60,"c":47},{"x":286,"a":40,"c":35},{"x":289,"a":60,"c":56},{"x":292,"a":25,"c":50},{"x":295,"a":60,"c":37},{"x":298,"a":40,"c":47},{"x":301,"a":60,"c":16},{"x":304,"a":30,"c":10},{"x":307,"a":58,"c":36},{"x":310,"a":18,"c":12},{"x":313,"a":60,"c":33},{"x":316,"a":40,"c":54},{"x":319,"a":60,"c":56},{"x":322,"a":24,"c":30},{"x":325,"a":60,"c":64},{"x":328,"a":40,"c":36},{"x":331,"a":60,"c":50},{"x":334,"a":15,"c":22},{"x":337,"a":55,"c":37},{"x":340,"a":20,"c":49},{"x":343,"a":1,"c":13},{"x":346,"a":60,"c":45},{"x":349,"a":35,"c":32},{"x":352,"a":60,"c":56},{"x":355,"a":40,"c":44},{"x":358,"a":60,"c":57},{"x":361,"a":18,"c":18},{"x":364,"a":55,"c":36},{"x":367,"a":30,"c":46},{"x":370,"a":60,"c":33},{"x":373,"a":40,"c":45},{"x":376,"a":60,"c":55},{"x":379,"a":20,"c":30},{"x":382,"a":55,"c":41},{"x":385,"a":30,"c":45},{"x":388,"a":60,"c":65},{"x":391,"a":14,"c":23},{"x":394,"a":60,"c":46},{"x":397,"a":30,"c":21},{"x":400,"a":60,"c":42},{"x":403,"a":25,"c":22},{"x":406,"a":60,"c":47},{"x":409,"a":35,"c":59},{"x":412,"a":60,"c":38},{"x":415,"a":22,"c":13},{"x":418,"a":55,"c":44},{"x":421,"a":40,"c":44},{"x":424,"a":60,"c":33},{"x":427,"a":20,"c":30},{"x":430,"a":50,"c":38},{"x":433,"a":15,"c":14},{"x":436,"a":60,"c":52},{"x":439,"a":25,"c":39},{"x":442,"a":60,"c":48},{"x":445,"a":35,"c":45},{"x":448,"a":60,"c":49},{"x":451,"a":30,"c":51},{"x":454,"a":60,"c":48},{"x":457,"a":18,"c":13},{"x":460,"a":50,"c":46},{"x":463,"a":30,"c":47},{"x":466,"a":60,"c":42},{"x":469,"a":25,"c":11},{"x":472,"a":60,"c":53},{"x":475,"a":30,"c":38},{"x":478,"a":60,"c":36},{"x":481,"a":10,"c":38},{"x":484,"a":55,"c":57},{"x":487,"a":30,"c":29},{"x":490,"a":60,"c":24},{"x":493,"a":40,"c":46},{"x":496,"a":55,"c":22}],
"D":[{"x":0,"a":60,"c":30},{"x":3,"a":8,"c":4},{"x":6,"a":45,"c":29},{"x":9,"a":25,"c":34},{"x":12,"a":60,"c":58},{"x":15,"a":1,"c":12},{"x":18,"a":44,"c":27},{"x":21,"a":25,"c":33},{"x":24,"a":60,"c":47},{"x":27,"a":13,"c":8},{"x":30,"a":60,"c":56},{"x":33,"a":20,"c":19},{"x":36,"a":55,"c":52},{"x":39,"a":9,"c":37},{"x":42,"a":60,"c":55},{"x":45,"a":15,"c":25},{"x":48,"a":48,"c":66},{"x":51,"a":22,"c":11},{"x":54,"a":60,"c":50},{"x":57,"a":18,"c":38},{"x":60,"a":60,"c":57},{"x":63,"a":4,"c":7},{"x":66,"a":50,"c":51},{"x":69,"a":12,"c":25},{"x":72,"a":60,"c":50},{"x":75,"a":7,"c":17},{"x":78,"a":55,"c":34},{"x":81,"a":25,"c":37},{"x":84,"a":60,"c":67},{"x":87,"a":21,"c":36},{"x":90,"a":42,"c":37},{"x":93,"a":5,"c":8},{"x":96,"a":60,"c":27},{"x":99,"a":1,"c":1},{"x":102,"a":40,"c":46},{"x":105,"a":8,"c":8},{"x":108,"a":55,"c":40},{"x":111,"a":1,"c":1},{"x":114,"a":45,"c":41},{"x":117,"a":3,"c":6},{"x":120,"a":60,"c":47},{"x":123,"a":22,"c":30},{"x":126,"a":60,"c":68},{"x":129,"a":1,"c":1},{"x":132,"a":50,"c":55},{"x":135,"a":24,"c":28},{"x":138,"a":60,"c":39},{"x":141,"a":14,"c":24},{"x":144,"a":55,"c":56},{"x":147,"a":28,"c":27},{"x":150,"a":2,"c":2},{"x":153,"a":45,"c":42},{"x":156,"a":15,"c":58},{"x":159,"a":55,"c":58},{"x":162,"a":1,"c":2},{"x":165,"a":36,"c":36},{"x":168,"a":18,"c":31},{"x":171,"a":47,"c":54},{"x":174,"a":30,"c":43},{"x":177,"a":48,"c":45},{"x":180,"a":20,"c":35},{"x":183,"a":45,"c":45},{"x":186,"a":15,"c":26},{"x":189,"a":44,"c":34},{"x":192,"a":4,"c":19},{"x":195,"a":1,"c":1},{"x":198,"a":45,"c":43},{"x":201,"a":22,"c":31},{"x":204,"a":60,"c":70},{"x":207,"a":4,"c":3},{"x":210,"a":60,"c":56},{"x":213,"a":30,"c":32},{"x":216,"a":55,"c":58},{"x":219,"a":3,"c":3},{"x":222,"a":1,"c":2},{"x":225,"a":42,"c":40},{"x":228,"a":60,"c":37},{"x":231,"a":10,"c":12},{"x":234,"a":50,"c":47},{"x":237,"a":24,"c":4},{"x":240,"a":58,"c":57},{"x":243,"a":17,"c":20},{"x":246,"a":60,"c":42},{"x":249,"a":31,"c":29},{"x":252,"a":55,"c":69},{"x":255,"a":25,"c":26},{"x":258,"a":60,"c":50},{"x":261,"a":13,"c":22},{"x":264,"a":46,"c":51},{"x":267,"a":1,"c":7},{"x":270,"a":50,"c":46},{"x":273,"a":15,"c":20},{"x":276,"a":60,"c":54},{"x":279,"a":24,"c":16},{"x":282,"a":1,"c":0.3},{"x":285,"a":42,"c":44},{"x":288,"a":10,"c":20},{"x":291,"a":60,"c":67},{"x":294,"a":30,"c":62},{"x":297,"a":48,"c":52},{"x":300,"a":8,"c":8},{"x":303,"a":55,"c":31},{"x":306,"a":25,"c":16},{"x":309,"a":60,"c":38},{"x":312,"a":35,"c":56},{"x":315,"a":60,"c":68},{"x":318,"a":20,"c":20},{"x":321,"a":50,"c":37},{"x":324,"a":14,"c":14},{"x":327,"a":44,"c":18},{"x":330,"a":30,"c":42},{"x":333,"a":55,"c":36},{"x":336,"a":1,"c":1.5},{"x":339,"a":45,"c":38},{"x":342,"a":20,"c":48},{"x":345,"a":60,"c":53},{"x":348,"a":10,"c":22},{"x":351,"a":55,"c":50},{"x":354,"a":1,"c":1.5},{"x":357,"a":45,"c":54},{"x":360,"a":28,"c":37},{"x":363,"a":60,"c":57},{"x":366,"a":14,"c":7},{"x":369,"a":50,"c":21},{"x":372,"a":25,"c":38},{"x":375,"a":60,"c":34},{"x":378,"a":5,"c":46},{"x":381,"a":1,"c":1.5},{"x":384,"a":48,"c":14},{"x":387,"a":22,"c":35},{"x":390,"a":60,"c":65},{"x":393,"a":2,"c":2.5},{"x":396,"a":60,"c":55},{"x":399,"a":30,"c":49},{"x":402,"a":1,"c":2.5},{"x":405,"a":55,"c":60},{"x":408,"a":20,"c":22},{"x":411,"a":60,"c":62},{"x":414,"a":10,"c":16},{"x":417,"a":50,"c":55},{"x":420,"a":1,"c":1},{"x":423,"a":45,"c":46},{"x":426,"a":60,"c":58},{"x":429,"a":1,"c":1.5},{"x":432,"a":60,"c":46},{"x":435,"a":24,"c":33},{"x":438,"a":42,"c":24},{"x":441,"a":7,"c":36},{"x":444,"a":60,"c":16},{"x":447,"a":14,"c":38},{"x":450,"a":40,"c":46},{"x":453,"a":22,"c":26},{"x":456,"a":4,"c":16},{"x":459,"a":60,"c":54},{"x":462,"a":27,"c":49},{"x":465,"a":40,"c":30},{"x":468,"a":25,"c":37},{"x":471,"a":55,"c":35},{"x":474,"a":5,"c":4},{"x":477,"a":42,"c":56},{"x":480,"a":30,"c":33},{"x":483,"a":60,"c":59},{"x":486,"a":10,"c":36},{"x":489,"a":45,"c":30},{"x":492,"a":1,"c":1},{"x":495,"a":55,"c":35},{"x":498,"a":20,"c":5},{"x":501,"a":42,"c":1.5},{"x":504,"a":60,"c":36},{"x":507,"a":38,"c":55},
{"x":1,"a":45,"c":39},{"x":4,"a":30,"c":28},{"x":7,"a":60,"c":41},{"x":10,"a":20,"c":34},{"x":13,"a":50,"c":50},{"x":16,"a":10,"c":14},{"x":19,"a":60,"c":58},{"x":22,"a":30,"c":35},{"x":25,"a":45,"c":33},{"x":28,"a":15,"c":19},{"x":31,"a":58,"c":52},{"x":34,"a":28,"c":38},{"x":37,"a":48,"c":45},{"x":40,"a":15,"c":21},{"x":43,"a":60,"c":47},{"x":46,"a":30,"c":29},{"x":49,"a":55,"c":58},{"x":52,"a":12,"c":17},{"x":55,"a":50,"c":40},{"x":58,"a":25,"c":37},{"x":61,"a":60,"c":59},{"x":64,"a":8,"c":15},{"x":67,"a":44,"c":45},{"x":70,"a":20,"c":27},{"x":73,"a":60,"c":50},{"x":76,"a":30,"c":33},{"x":79,"a":45,"c":43},{"x":82,"a":10,"c":20},{"x":85,"a":60,"c":55},{"x":88,"a":28,"c":36},{"x":91,"a":50,"c":29},{"x":94,"a":6,"c":9},{"x":97,"a":40,"c":29},{"x":100,"a":20,"c":10.5},{"x":103,"a":50,"c":35},{"x":106,"a":15,"c":25},{"x":109,"a":45,"c":45},{"x":112,"a":25,"c":37},{"x":115,"a":55,"c":50},{"x":118,"a":8,"c":8},{"x":121,"a":50,"c":52},{"x":124,"a":25,"c":23},{"x":127,"a":60,"c":61},{"x":130,"a":20,"c":27},{"x":133,"a":48,"c":50},{"x":136,"a":30,"c":32},{"x":139,"a":55,"c":47},{"x":142,"a":18,"c":23},{"x":145,"a":50,"c":50},{"x":148,"a":30,"c":35},{"x":151,"a":55,"c":50},{"x":154,"a":20,"c":33},{"x":157,"a":45,"c":49},{"x":160,"a":10,"c":11},{"x":163,"a":40,"c":40},{"x":166,"a":25,"c":30},{"x":169,"a":45,"c":33},{"x":172,"a":28,"c":36},{"x":175,"a":42,"c":44},{"x":178,"a":22,"c":27},{"x":181,"a":48,"c":45},{"x":184,"a":25,"c":25},{"x":187,"a":40,"c":35},{"x":190,"a":12,"c":25},{"x":193,"a":45,"c":40},{"x":196,"a":8,"c":28},{"x":199,"a":40,"c":37},{"x":202,"a":25,"c":32},{"x":205,"a":55,"c":64},{"x":208,"a":30,"c":27},{"x":211,"a":60,"c":51},{"x":214,"a":25,"c":36},{"x":217,"a":45,"c":45},{"x":220,"a":8,"c":18},{"x":223,"a":42,"c":41},{"x":226,"a":25,"c":27},{"x":229,"a":55,"c":58},{"x":232,"a":20,"c":23},{"x":235,"a":45,"c":45},{"x":238,"a":30,"c":41},{"x":241,"a":60,"c":56},{"x":244,"a":15,"c":13},{"x":247,"a":50,"c":48},{"x":250,"a":28,"c":32},{"x":253,"a":60,"c":57},{"x":256,"a":22,"c":29},{"x":259,"a":48,"c":41},{"x":262,"a":20,"c":25},{"x":265,"a":42,"c":46},{"x":268,"a":10,"c":8},{"x":271,"a":55,"c":53},{"x":274,"a":25,"c":31},{"x":277,"a":45,"c":39},{"x":280,"a":15,"c":20},{"x":283,"a":50,"c":44},{"x":286,"a":30,"c":35},{"x":289,"a":55,"c":50},{"x":292,"a":25,"c":40},{"x":295,"a":50,"c":55},{"x":298,"a":15,"c":30},{"x":301,"a":58,"c":62},{"x":304,"a":30,"c":34},{"x":307,"a":55,"c":47},{"x":310,"a":35,"c":37},{"x":313,"a":60,"c":57},{"x":316,"a":25,"c":32},{"x":319,"a":45,"c":51},{"x":322,"a":20,"c":27},{"x":325,"a":40,"c":30},{"x":328,"a":15,"c":17},{"x":331,"a":50,"c":39},{"x":334,"a":20,"c":24},{"x":337,"a":42,"c":45},{"x":340,"a":10,"c":11},{"x":343,"a":55,"c":48},{"x":346,"a":28,"c":35},{"x":349,"a":48,"c":53},{"x":352,"a":15,"c":20},{"x":355,"a":50,"c":51},{"x":358,"a":30,"c":37},{"x":361,"a":58,"c":54},{"x":364,"a":20,"c":26},{"x":367,"a":45,"c":34},{"x":370,"a":30,"c":33},{"x":373,"a":50,"c":39},{"x":376,"a":15,"c":20},{"x":379,"a":45,"c":47},{"x":382,"a":20,"c":14.5},{"x":385,"a":55,"c":45},{"x":388,"a":35,"c":38},{"x":391,"a":60,"c":61},{"x":394,"a":25,"c":45},{"x":397,"a":55,"c":53},{"x":400,"a":20,"c":12},{"x":403,"a":50,"c":42},{"x":406,"a":35,"c":40},{"x":409,"a":60,"c":61},{"x":412,"a":25,"c":30},{"x":415,"a":45,"c":52},{"x":418,"a":15,"c":20},{"x":421,"a":55,"c":54},{"x":424,"a":35,"c":33},{"x":427,"a":60,"c":59},{"x":430,"a":20,"c":28},{"x":433,"a":45,"c":46},{"x":436,"a":30,"c":34},{"x":439,"a":42,"c":29},{"x":442,"a":20,"c":26},{"x":445,"a":55,"c":52},{"x":448,"a":25,"c":30},{"x":451,"a":45,"c":46},{"x":454,"a":18,"c":26},{"x":457,"a":42,"c":42},{"x":460,"a":30,"c":32},{"x":463,"a":50,"c":46},{"x":466,"a":15,"c":35},{"x":469,"a":45,"c":42},{"x":472,"a":25,"c":34},{"x":475,"a":55,"c":57},{"x":478,"a":20,"c":33},{"x":481,"a":48,"c":33},{"x":484,"a":30,"c":22},{"x":487,"a":55,"c":47},{"x":490,"a":20,"c":20.5},{"x":493,"a":50,"c":36},{"x":496,"a":30,"c":29},{"x":499,"a":45,"c":35},{"x":502,"a":25,"c":36},{"x":505,"a":55,"c":51.5}],
"E":[{"x":0,"a":27,"c":52},{"x":3,"a":60,"c":22},{"x":6,"a":42,"c":48},{"x":9,"a":60,"c":46},{"x":12,"a":53,"c":52},{"x":15,"a":38,"c":51},{"x":18,"a":60,"c":47},{"x":21,"a":7,"c":26},{"x":24,"a":60,"c":53},{"x":27,"a":45,"c":62},{"x":30,"a":60,"c":56},{"x":33,"a":30,"c":42},{"x":36,"a":60,"c":49},{"x":39,"a":20,"c":20},{"x":42,"a":55,"c":57},{"x":45,"a":25,"c":46},{"x":48,"a":60,"c":44},{"x":51,"a":15,"c":41},{"x":54,"a":60,"c":50},{"x":57,"a":14,"c":47},{"x":60,"a":58,"c":56},{"x":63,"a":30,"c":53},{"x":66,"a":60,"c":63},{"x":69,"a":6,"c":40},{"x":72,"a":60,"c":51},{"x":75,"a":26,"c":28},{"x":78,"a":60,"c":0.5},{"x":81,"a":17,"c":22},{"x":84,"a":60,"c":57},{"x":87,"a":40,"c":47},{"x":90,"a":60,"c":58},{"x":93,"a":30,"c":43},{"x":96,"a":60,"c":62},{"x":99,"a":28,"c":45},{"x":102,"a":60,"c":57},{"x":105,"a":18,"c":44},{"x":108,"a":6,"c":13},{"x":111,"a":55,"c":60},{"x":114,"a":15,"c":33},{"x":117,"a":60,"c":48},{"x":120,"a":18,"c":19},{"x":123,"a":60,"c":37},{"x":126,"a":25,"c":31},{"x":129,"a":60,"c":53},{"x":132,"a":39,"c":63},{"x":135,"a":60,"c":50},{"x":138,"a":11,"c":41},{"x":141,"a":60,"c":62},{"x":144,"a":30,"c":57},{"x":147,"a":58,"c":34},{"x":150,"a":20,"c":51},{"x":153,"a":60,"c":63},{"x":156,"a":21,"c":30},{"x":159,"a":60,"c":52},{"x":162,"a":40,"c":46},{"x":165,"a":60,"c":56},{"x":168,"a":25,"c":32},{"x":171,"a":60,"c":48},{"x":174,"a":20,"c":68},{"x":177,"a":58,"c":58},{"x":180,"a":30,"c":45},{"x":183,"a":60,"c":31},{"x":186,"a":22,"c":44},{"x":189,"a":60,"c":47},{"x":192,"a":10,"c":16},{"x":195,"a":55,"c":5},{"x":198,"a":60,"c":43},{"x":201,"a":45,"c":46},{"x":204,"a":60,"c":56},{"x":207,"a":22,"c":70},{"x":210,"a":60,"c":62},{"x":213,"a":23,"c":33},{"x":216,"a":60,"c":30},{"x":219,"a":12,"c":28},{"x":222,"a":60,"c":55},{"x":225,"a":37,"c":43},{"x":228,"a":60,"c":35},{"x":231,"a":20,"c":65},{"x":234,"a":60,"c":57},{"x":237,"a":30,"c":47},{"x":240,"a":55,"c":62},{"x":243,"a":13,"c":17},{"x":246,"a":60,"c":58},{"x":249,"a":35,"c":24},{"x":252,"a":60,"c":52},{"x":255,"a":24,"c":30},{"x":258,"a":60,"c":46},{"x":261,"a":38,"c":63},{"x":264,"a":60,"c":51},{"x":267,"a":20,"c":22},{"x":270,"a":60,"c":15},{"x":273,"a":22,"c":23},{"x":276,"a":60,"c":34},{"x":279,"a":48,"c":57},{"x":282,"a":60,"c":58},{"x":285,"a":33,"c":37},{"x":288,"a":1,"c":4},{"x":291,"a":58,"c":64},{"x":294,"a":40,"c":13},{"x":297,"a":1,"c":9},{"x":300,"a":60,"c":57},{"x":303,"a":42,"c":50},{"x":306,"a":60,"c":48},{"x":309,"a":25,"c":62},{"x":312,"a":60,"c":65},{"x":315,"a":45,"c":52},{"x":318,"a":60,"c":61},{"x":321,"a":15,"c":34},{"x":324,"a":60,"c":48},{"x":327,"a":10,"c":28},{"x":330,"a":60,"c":60},{"x":333,"a":40,"c":66},{"x":336,"a":60,"c":51},{"x":339,"a":26,"c":31},{"x":342,"a":55,"c":48},{"x":345,"a":17,"c":39},{"x":348,"a":60,"c":58},{"x":351,"a":30,"c":54},{"x":354,"a":60,"c":45},{"x":357,"a":23,"c":14},{"x":360,"a":60,"c":56},{"x":363,"a":35,"c":40},{"x":366,"a":60,"c":50},{"x":369,"a":19,"c":29},{"x":372,"a":60,"c":60},{"x":375,"a":38,"c":46},{"x":378,"a":60,"c":56},{"x":381,"a":35,"c":42},{"x":384,"a":60,"c":65},{"x":387,"a":25,"c":38},{"x":390,"a":55,"c":14},{"x":393,"a":15,"c":32},{"x":396,"a":60,"c":60},{"x":399,"a":30,"c":38},{"x":402,"a":60,"c":60},{"x":405,"a":40,"c":56},{"x":408,"a":9,"c":25},{"x":411,"a":60,"c":65},{"x":414,"a":30,"c":37},{"x":417,"a":60,"c":18},{"x":420,"a":18,"c":23},{"x":423,"a":55,"c":54},{"x":426,"a":24,"c":38},{"x":429,"a":60,"c":42},{"x":432,"a":30,"c":41},{"x":435,"a":60,"c":60},{"x":438,"a":20,"c":33},{"x":441,"a":60,"c":53},{"x":444,"a":1,"c":35},{"x":447,"a":55,"c":38},{"x":450,"a":24,"c":31},{"x":453,"a":60,"c":61},{"x":456,"a":35,"c":20},{"x":459,"a":60,"c":50},{"x":462,"a":22,"c":37},{"x":465,"a":60,"c":56},{"x":468,"a":40,"c":60},{"x":471,"a":60,"c":53},{"x":474,"a":27,"c":27},{"x":477,"a":60,"c":55},{"x":480,"a":6,"c":56},{"x":483,"a":55,"c":52},{"x":486,"a":21,"c":21},{"x":489,"a":60,"c":47},{"x":492,"a":9,"c":20},{"x":495,"a":52,"c":45},
{"x":1,"a":50,"c":56},{"x":4,"a":40,"c":48},{"x":7,"a":60,"c":50},{"x":10,"a":45,"c":42},{"x":13,"a":60,"c":55},{"x":16,"a":50,"c":47},{"x":19,"a":60,"c":58},{"x":22,"a":35,"c":36},{"x":25,"a":60,"c":56},{"x":28,"a":48,"c":50},{"x":31,"a":60,"c":56},{"x":34,"a":38,"c":45},{"x":37,"a":60,"c":58},{"x":40,"a":28,"c":36},{"x":43,"a":60,"c":54},{"x":46,"a":42,"c":44},{"x":49,"a":60,"c":50},{"x":52,"a":35,"c":46},{"x":55,"a":60,"c":56},{"x":58,"a":30,"c":46},{"x":61,"a":60,"c":54},{"x":64,"a":45,"c":40},{"x":67,"a":60,"c":51},{"x":70,"a":22,"c":47},{"x":73,"a":60,"c":55},{"x":76,"a":40,"c":46},{"x":79,"a":60,"c":57},{"x":82,"a":30,"c":47},{"x":85,"a":60,"c":57},{"x":88,"a":45,"c":52},{"x":91,"a":60,"c":58},{"x":94,"a":35,"c":44},{"x":97,"a":60,"c":57},{"x":100,"a":40,"c":47},{"x":103,"a":60,"c":55},{"x":106,"a":25,"c":56},{"x":109,"a":60,"c":57},{"x":112,"a":38,"c":31},{"x":115,"a":60,"c":56},{"x":118,"a":30,"c":46},{"x":121,"a":60,"c":34},{"x":124,"a":42,"c":52},{"x":127,"a":60,"c":58},{"x":130,"a":35,"c":50},{"x":133,"a":60,"c":47},{"x":136,"a":45,"c":56},{"x":139,"a":60,"c":41},{"x":142,"a":28,"c":48},{"x":145,"a":60,"c":57},{"x":148,"a":42,"c":52},{"x":151,"a":60,"c":54},{"x":154,"a":35,"c":30},{"x":157,"a":60,"c":47},{"x":160,"a":22,"c":46},{"x":163,"a":60,"c":55},{"x":166,"a":44,"c":50},{"x":169,"a":60,"c":48},{"x":172,"a":30,"c":41},{"x":175,"a":60,"c":52},{"x":178,"a":45,"c":45},{"x":181,"a":60,"c":43},{"x":184,"a":35,"c":47},{"x":187,"a":60,"c":54},{"x":190,"a":20,"c":46},{"x":193,"a":58,"c":6},{"x":196,"a":38,"c":60},{"x":199,"a":60,"c":53},{"x":202,"a":30,"c":52},{"x":205,"a":60,"c":51},{"x":208,"a":44,"c":47},{"x":211,"a":60,"c":54},{"x":214,"a":28,"c":31},{"x":217,"a":60,"c":50},{"x":220,"a":35,"c":30},{"x":223,"a":60,"c":43},{"x":226,"a":42,"c":46},{"x":229,"a":60,"c":47},{"x":232,"a":30,"c":44},{"x":235,"a":60,"c":57},{"x":238,"a":45,"c":50},{"x":241,"a":60,"c":54},{"x":244,"a":25,"c":41},{"x":247,"a":60,"c":52},{"x":250,"a":40,"c":50},{"x":253,"a":60,"c":47},{"x":256,"a":30,"c":42},{"x":259,"a":60,"c":51},{"x":262,"a":45,"c":45},{"x":265,"a":60,"c":52},{"x":268,"a":25,"c":37},{"x":271,"a":60,"c":44},{"x":274,"a":40,"c":40},{"x":277,"a":60,"c":56},{"x":280,"a":30,"c":36},{"x":283,"a":60,"c":59},{"x":286,"a":20,"c":36},{"x":289,"a":50,"c":20},{"x":292,"a":35,"c":42},{"x":295,"a":60,"c":49},{"x":298,"a":30,"c":41},{"x":301,"a":60,"c":46},{"x":304,"a":45,"c":48},{"x":307,"a":60,"c":52},{"x":310,"a":28,"c":51},{"x":313,"a":60,"c":52},{"x":316,"a":40,"c":42},{"x":319,"a":60,"c":58},{"x":322,"a":30,"c":45},{"x":325,"a":60,"c":48},{"x":328,"a":20,"c":27},{"x":331,"a":60,"c":49},{"x":334,"a":45,"c":53},{"x":337,"a":60,"c":47},{"x":340,"a":30,"c":40},{"x":343,"a":60,"c":53},{"x":346,"a":40,"c":43},{"x":349,"a":60,"c":52},{"x":352,"a":25,"c":38},{"x":355,"a":60,"c":51},{"x":358,"a":38,"c":46},{"x":361,"a":60,"c":47},{"x":364,"a":30,"c":44},{"x":367,"a":60,"c":55},{"x":370,"a":42,"c":47},{"x":373,"a":60,"c":50},{"x":376,"a":28,"c":45},{"x":379,"a":60,"c":52},{"x":382,"a":40,"c":44},{"x":385,"a":60,"c":65},{"x":388,"a":30,"c":32},{"x":391,"a":60,"c":50},{"x":394,"a":45,"c":47},{"x":397,"a":60,"c":60},{"x":400,"a":35,"c":41},{"x":403,"a":60,"c":57},{"x":406,"a":22,"c":29},{"x":409,"a":60,"c":55},{"x":412,"a":40,"c":37},{"x":415,"a":60,"c":53},{"x":418,"a":30,"c":35},{"x":421,"a":60,"c":50},{"x":424,"a":44,"c":47},{"x":427,"a":60,"c":54},{"x":430,"a":25,"c":30},{"x":433,"a":60,"c":41},{"x":436,"a":38,"c":42},{"x":439,"a":60,"c":52},{"x":442,"a":20,"c":18},{"x":445,"a":50,"c":48},{"x":448,"a":35,"c":38},{"x":451,"a":60,"c":52},{"x":454,"a":30,"c":35},{"x":457,"a":60,"c":53},{"x":460,"a":42,"c":44},{"x":463,"a":60,"c":55},{"x":466,"a":28,"c":36},{"x":469,"a":60,"c":52},{"x":472,"a":44,"c":42},{"x":475,"a":60,"c":56},{"x":478,"a":32,"c":44},{"x":481,"a":60,"c":55},{"x":484,"a":25,"c":29},{"x":487,"a":60,"c":54},{"x":490,"a":38,"c":37},{"x":493,"a":60,"c":59}]
},
"resolve":{"scale":{"color":"independent","shape":"independent","size":"independent","strokeWidth":"independent"},"legend":{"color":"independent","shape":"independent","size":"independent","strokeWidth":"independent"}},
"spacing":21,
"vconcat":[
{"hconcat":[
 {"title":{"text":"A","dx":-30,"offset":0},"resolve":{"scale":{"color":"independent","shape":"independent","size":"independent","strokeWidth":"independent"},"legend":{"color":"independent","shape":"independent","size":"independent","strokeWidth":"independent"}},
  "vconcat":[{"width":718,"height":383,"data":{"name":"A"},
   "title":{"text":"Liver cancer","orient":"bottom","frame":"group","anchor":"middle","dx":-33,"offset":28,"font":"Liberation Serif","fontSize":52,"fontWeight":"normal"},
   "layer":[
    {"transform":[{"fold":["a"],"as":["s","v"]}],"mark":"line","encoding":{
      "x":{"field":"x","type":"quantitative","title":"Emulation sample","scale":{"domain":[-25,522],"nice":false,"zero":false},"axis":{"values":[0,100,200,300,400,500]}},
      "y":{"field":"v","type":"quantitative","title":"Simulated recurrence time","scale":{"domain":[-3.06,75.1],"nice":false,"zero":false},"axis":{"values":[0,10,20,30,40,50,60,70],"titlePadding":9,"titleY":174}},
      "color":{"field":"s","type":"nominal","scale":{"domain":["c","a"],"range":["#3d4fb0","#3daa3a"]},"legend":{"title":null,"labelExpr":"datum.label==='c'?'CNN-FL':'Actual value'"}}}},
    {"transform":[{"fold":["c"],"as":["s","v"]}],"mark":"point","encoding":{
      "x":{"field":"x","type":"quantitative","title":"Emulation sample"},
      "y":{"field":"v","type":"quantitative","title":"Simulated recurrence time"},
      "color":{"field":"s","type":"nominal","legend":{"title":null,"labelExpr":"datum.label==='c'?'CNN-FL':'Actual value'"}},
      "shape":{"field":"s","type":"nominal","scale":{"domain":["c","a"],"range":["diamond","stroke"]},"legend":{"title":null,"labelExpr":"datum.label==='c'?'CNN-FL':'Actual value'"}},
      "size":{"field":"s","type":"nominal","scale":{"type":"ordinal","domain":["c","a"],"range":[60,484]},"legend":{"title":null,"labelExpr":"datum.label==='c'?'CNN-FL':'Actual value'"}},
      "strokeWidth":{"field":"s","type":"nominal","scale":{"type":"ordinal","domain":["c","a"],"range":[0,4]},"legend":{"title":null,"labelExpr":"datum.label==='c'?'CNN-FL':'Actual value'"}}}}
   ]}]},
 {"title":{"text":"B","dx":-38,"offset":-3},"resolve":{"scale":{"color":"independent","shape":"independent","size":"independent","strokeWidth":"independent"},"legend":{"color":"independent","shape":"independent","size":"independent","strokeWidth":"independent"}},
  "vconcat":[{"width":717,"height":390,"data":{"name":"B"},
   "title":{"text":"Kidney cancer","orient":"bottom","frame":"group","anchor":"middle","dx":-4,"offset":19.5,"font":"Liberation Serif","fontSize":52,"fontWeight":"normal"},
   "layer":[
    {"transform":[{"fold":["a"],"as":["s","v"]}],"mark":"line","encoding":{
      "x":{"field":"x","type":"quantitative","title":"Emulation sample","scale":{"domain":[-24.4,521.3],"nice":false,"zero":false},"axis":{"values":[0,100,200,300,400,500]}},
      "y":{"field":"v","type":"quantitative","title":"Simulated recurrence time","scale":{"domain":[-3.2,75],"nice":false,"zero":false},"axis":{"values":[0,10,20,30,40,50,60,70],"titlePadding":4.5,"titleY":181}},
      "color":{"field":"s","type":"nominal","scale":{"domain":["c","a"],"range":["#3d4fb0","#3daa3a"]},"legend":{"title":null,"labelExpr":"datum.label==='c'?'CNN-FL':'Actual value'"}}}},
    {"transform":[{"fold":["c"],"as":["s","v"]}],"mark":"point","encoding":{
      "x":{"field":"x","type":"quantitative","title":"Emulation sample"},
      "y":{"field":"v","type":"quantitative","title":"Simulated recurrence time"},
      "color":{"field":"s","type":"nominal","legend":{"title":null,"labelExpr":"datum.label==='c'?'CNN-FL':'Actual value'"}},
      "shape":{"field":"s","type":"nominal","scale":{"domain":["c","a"],"range":["diamond","stroke"]},"legend":{"title":null,"labelExpr":"datum.label==='c'?'CNN-FL':'Actual value'"}},
      "size":{"field":"s","type":"nominal","scale":{"type":"ordinal","domain":["c","a"],"range":[60,484]},"legend":{"title":null,"labelExpr":"datum.label==='c'?'CNN-FL':'Actual value'"}},
      "strokeWidth":{"field":"s","type":"nominal","scale":{"type":"ordinal","domain":["c","a"],"range":[0,4]},"legend":{"title":null,"labelExpr":"datum.label==='c'?'CNN-FL':'Actual value'"}}}}
   ]}]}
 ],"spacing":38,"resolve":{"scale":{"color":"independent","shape":"independent","size":"independent","strokeWidth":"independent"},"legend":{"color":"independent","shape":"independent","size":"independent","strokeWidth":"independent"}}},
{"spacing":2,"resolve":{"scale":{"color":"independent","shape":"independent","size":"independent","strokeWidth":"independent"},"legend":{"color":"independent","shape":"independent","size":"independent","strokeWidth":"independent"}},
 "vconcat":[
{"hconcat":[
 {"title":{"text":"C","dx":-27.5,"offset":14.6},"resolve":{"scale":{"color":"independent","shape":"independent","size":"independent","strokeWidth":"independent"},"legend":{"color":"independent","shape":"independent","size":"independent","strokeWidth":"independent"}},
  "vconcat":[{"width":719,"height":393,"data":{"name":"C"},
   "title":{"text":"Breast cancer","orient":"bottom","frame":"group","anchor":"middle","dx":-29,"offset":35,"font":"Liberation Serif","fontSize":52,"fontWeight":"normal"},
   "layer":[
    {"transform":[{"fold":["a"],"as":["s","v"]}],"mark":"line","encoding":{
      "x":{"field":"x","type":"quantitative","title":"Emulation sample","scale":{"domain":[-26,523],"nice":false,"zero":false},"axis":{"values":[0,100,200,300,400,500]}},
      "y":{"field":"v","type":"quantitative","title":"Simulated recurrence time","scale":{"domain":[-7.6,73.5],"nice":false,"zero":false},"axis":{"values":[0,10,20,30,40,50,60,70],"titlePadding":11.5,"titleY":180}},
      "color":{"field":"s","type":"nominal","scale":{"domain":["c","a"],"range":["#3d4fb0","#3daa3a"]},"legend":{"title":null,"labelExpr":"datum.label==='c'?'CNN-FL':'Actual value'"}}}},
    {"transform":[{"fold":["c"],"as":["s","v"]}],"mark":"point","encoding":{
      "x":{"field":"x","type":"quantitative","title":"Emulation sample"},
      "y":{"field":"v","type":"quantitative","title":"Simulated recurrence time"},
      "color":{"field":"s","type":"nominal","legend":{"title":null,"labelExpr":"datum.label==='c'?'CNN-FL':'Actual value'"}},
      "shape":{"field":"s","type":"nominal","scale":{"domain":["c","a"],"range":["diamond","stroke"]},"legend":{"title":null,"labelExpr":"datum.label==='c'?'CNN-FL':'Actual value'"}},
      "size":{"field":"s","type":"nominal","scale":{"type":"ordinal","domain":["c","a"],"range":[60,484]},"legend":{"title":null,"labelExpr":"datum.label==='c'?'CNN-FL':'Actual value'"}},
      "strokeWidth":{"field":"s","type":"nominal","scale":{"type":"ordinal","domain":["c","a"],"range":[0,4]},"legend":{"title":null,"labelExpr":"datum.label==='c'?'CNN-FL':'Actual value'"}}}}
   ]}]},
 {"title":{"text":"D","dx":-38,"offset":10},"resolve":{"scale":{"color":"independent","shape":"independent","size":"independent","strokeWidth":"independent"},"legend":{"color":"independent","shape":"independent","size":"independent","strokeWidth":"independent"}},
  "vconcat":[{"width":715,"height":389,"data":{"name":"D"},
   "title":{"text":"Stomach cancer","orient":"bottom","frame":"group","anchor":"middle","dx":8,"offset":38,"font":"Liberation Serif","fontSize":52,"fontWeight":"normal"},
   "layer":[
    {"transform":[{"fold":["a"],"as":["s","v"]}],"mark":"line","encoding":{
      "x":{"field":"x","type":"quantitative","title":"Emulation sample","scale":{"domain":[-25.8,533.6],"nice":false,"zero":false},"axis":{"values":[0,100,200,300,400,500]}},
      "y":{"field":"v","type":"quantitative","title":"Simulated recurrence time","scale":{"domain":[-3.46,75.7],"nice":false,"zero":false},"axis":{"values":[0,10,20,30,40,50,60,70],"titlePadding":6,"titleY":192}},
      "color":{"field":"s","type":"nominal","scale":{"domain":["c","a"],"range":["#3d4fb0","#3daa3a"]},"legend":{"title":null,"labelExpr":"datum.label==='c'?'CNN-FL':'Actual value'"}}}},
    {"transform":[{"fold":["c"],"as":["s","v"]}],"mark":"point","encoding":{
      "x":{"field":"x","type":"quantitative","title":"Emulation sample"},
      "y":{"field":"v","type":"quantitative","title":"Simulated recurrence time"},
      "color":{"field":"s","type":"nominal","legend":{"title":null,"labelExpr":"datum.label==='c'?'CNN-FL':'Actual value'"}},
      "shape":{"field":"s","type":"nominal","scale":{"domain":["c","a"],"range":["diamond","stroke"]},"legend":{"title":null,"labelExpr":"datum.label==='c'?'CNN-FL':'Actual value'"}},
      "size":{"field":"s","type":"nominal","scale":{"type":"ordinal","domain":["c","a"],"range":[60,484]},"legend":{"title":null,"labelExpr":"datum.label==='c'?'CNN-FL':'Actual value'"}},
      "strokeWidth":{"field":"s","type":"nominal","scale":{"type":"ordinal","domain":["c","a"],"range":[0,4]},"legend":{"title":null,"labelExpr":"datum.label==='c'?'CNN-FL':'Actual value'"}}}}
   ]}]}
 ],"spacing":39,"resolve":{"scale":{"color":"independent","shape":"independent","size":"independent","strokeWidth":"independent"},"legend":{"color":"independent","shape":"independent","size":"independent","strokeWidth":"independent"}}},
 {"title":{"text":"E","dx":-35.5,"offset":11.6},"resolve":{"scale":{"color":"independent","shape":"independent","size":"independent","strokeWidth":"independent"},"legend":{"color":"independent","shape":"independent","size":"independent","strokeWidth":"independent"}},
  "vconcat":[{"width":700,"height":389,"data":{"name":"E"},
   "title":{"text":"Uterine cancer","orient":"bottom","frame":"group","anchor":"middle","dx":-14,"offset":42.4,"font":"Liberation Serif","fontSize":52,"fontWeight":"normal"},
   "layer":[
    {"transform":[{"fold":["a"],"as":["s","v"]}],"mark":"line","encoding":{
      "x":{"field":"x","type":"quantitative","title":"Emulation sample","scale":{"domain":[-23.3,519.4],"nice":false,"zero":false},"axis":{"values":[0,100,200,300,400,500]}},
      "y":{"field":"v","type":"quantitative","title":"Simulated recurrence time","scale":{"domain":[-2.9,72.7],"nice":false,"zero":false},"axis":{"values":[0,10,20,30,40,50,60,70],"titlePadding":3.5,"titleY":178}},
      "color":{"field":"s","type":"nominal","scale":{"domain":["c","a"],"range":["#3d4fb0","#3daa3a"]},"legend":{"title":null,"labelExpr":"datum.label==='c'?'CNN-FL':'Actual value'"}}}},
    {"transform":[{"fold":["c"],"as":["s","v"]}],"mark":"point","encoding":{
      "x":{"field":"x","type":"quantitative","title":"Emulation sample"},
      "y":{"field":"v","type":"quantitative","title":"Simulated recurrence time"},
      "color":{"field":"s","type":"nominal","legend":{"title":null,"labelExpr":"datum.label==='c'?'CNN-FL':'Actual value'"}},
      "shape":{"field":"s","type":"nominal","scale":{"domain":["c","a"],"range":["diamond","stroke"]},"legend":{"title":null,"labelExpr":"datum.label==='c'?'CNN-FL':'Actual value'"}},
      "size":{"field":"s","type":"nominal","scale":{"type":"ordinal","domain":["c","a"],"range":[60,484]},"legend":{"title":null,"labelExpr":"datum.label==='c'?'CNN-FL':'Actual value'"}},
      "strokeWidth":{"field":"s","type":"nominal","scale":{"type":"ordinal","domain":["c","a"],"range":[0,4]},"legend":{"title":null,"labelExpr":"datum.label==='c'?'CNN-FL':'Actual value'"}}}}
   ]}]}
 ]}
]
}
